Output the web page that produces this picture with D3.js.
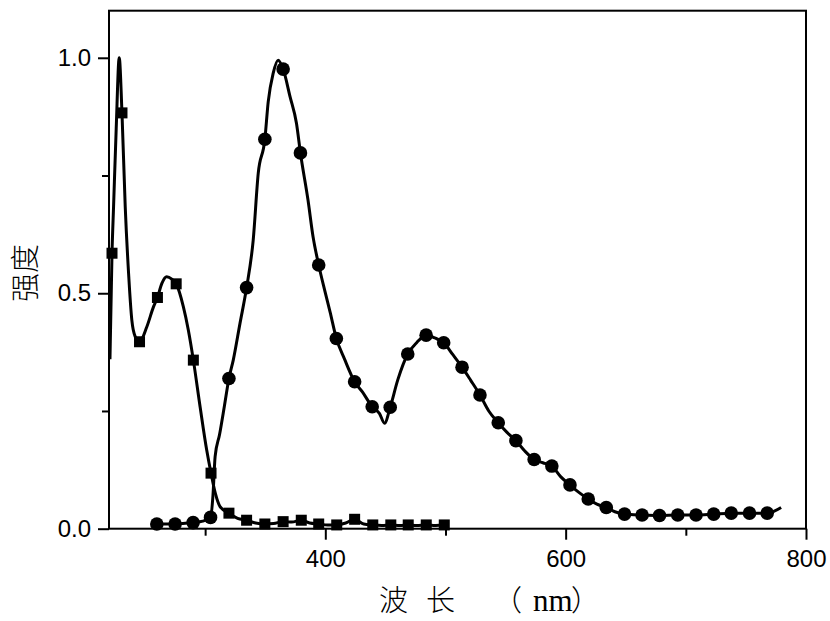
<!DOCTYPE html>
<html><head><meta charset="utf-8">
<script src="https://cdn.jsdelivr.net/npm/d3@7"></script>
<style>body{margin:0;background:#fff}svg{display:block}</style>
</head><body>
<svg id="c" width="830" height="621"></svg>
<script>
// ---- data ----
const xMajorTicks = [400, 600, 800];
const xMinorTicks = [300, 500, 700];
const xTickLabels = ["400", "600", "800"];
const yMajorTicks = [0, 0.5, 1.0];
const yMinorTicks = [0.25, 0.75];
const yTickLabels = ["0.0", "0.5", "1.0"];
const xTitleParts = ["波", "长", "（", "nm", "）"];
const yTitle = "强度";

// square series (line + markers)
const sqLineNm  = [220.8, 222.5, 223.8, 226, 228.5, 230.8, 233.5, 236.3, 239, 241.8, 245.4, 251.5, 257, 260.3, 264, 268, 272.3, 275.9, 281.9, 286, 290.2, 295.8, 301.3, 304.9, 308.5, 312.4, 319.8, 327, 334.5, 342, 349.7, 357, 364.9, 372, 380, 387, 394.5, 402, 409.5, 417, 424.4, 432, 439.5, 447, 454.5, 462, 469, 476, 484, 492, 499];
const sqLineVal = [0.36, 0.585, 0.684, 0.85, 1.0, 0.883, 0.684, 0.542, 0.443, 0.408, 0.397, 0.429, 0.471, 0.491, 0.521, 0.535, 0.53, 0.52, 0.471, 0.422, 0.358, 0.259, 0.167, 0.118, 0.075, 0.047, 0.033, 0.022, 0.018, 0.012, 0.01, 0.011, 0.015, 0.014, 0.018, 0.012, 0.01, 0.008, 0.008, 0.012, 0.02, 0.01, 0.008, 0.007, 0.008, 0.007, 0.008, 0.007, 0.008, 0.007, 0.008];
const sqMarkNm  = [222.5, 230.8, 245.4, 260.3, 275.9, 290.2, 304.9, 319.8, 334.5, 349.7, 364.9, 380, 394.5, 409.5, 424.4, 439.5, 454.5, 469, 484, 499];
const sqMarkVal = [0.585, 0.883, 0.397, 0.491, 0.52, 0.358, 0.118, 0.033, 0.018, 0.01, 0.015, 0.018, 0.01, 0.008, 0.02, 0.008, 0.008, 0.008, 0.008, 0.008];

// circle series (line + markers)
const ciLineNm  = [259.8, 275, 290, 298, 304.5, 306.5, 308.3, 312, 316, 319.8, 323.4, 329, 334.5, 340, 344.2, 349.7, 352.5, 356.6, 360.7, 364.9, 370.7, 376, 379.3, 385.6, 389.8, 394.5, 399.5, 404, 409.2, 416, 424.4, 431, 439, 445, 449.3, 454, 460.3, 468.6, 476, 483.9, 491, 498.5, 506, 513.8, 521, 528.7, 536, 543.9, 551, 558.6, 566, 573.8, 581, 588.5, 596, 603.6, 611, 618.8, 626, 633.8, 641, 649, 663.6, 678.1, 693.3, 708.5, 723.2, 737.8, 753, 767.7, 779.3];
const ciLineVal = [0.01, 0.01, 0.013, 0.016, 0.024, 0.07, 0.153, 0.2, 0.26, 0.319, 0.358, 0.436, 0.512, 0.613, 0.755, 0.827, 0.907, 0.967, 0.995, 0.976, 0.917, 0.861, 0.798, 0.698, 0.62, 0.56, 0.506, 0.46, 0.404, 0.36, 0.312, 0.29, 0.259, 0.245, 0.224, 0.258, 0.316, 0.371, 0.395, 0.411, 0.405, 0.395, 0.37, 0.343, 0.315, 0.284, 0.25, 0.225, 0.205, 0.187, 0.165, 0.147, 0.14, 0.133, 0.11, 0.093, 0.077, 0.063, 0.052, 0.045, 0.036, 0.031, 0.029, 0.028, 0.029, 0.029, 0.031, 0.033, 0.033, 0.033, 0.045];
const ciMarkNm  = [259.8, 275, 290, 304.5, 319.8, 334.5, 349.7, 364.9, 379.3, 394.5, 409.2, 424.4, 439, 454, 468.6, 483.9, 498.5, 513.8, 528.7, 543.9, 558.6, 573.8, 588.5, 603.6, 618.8, 633.8, 649, 663.6, 678.1, 693.3, 708.5, 723.2, 737.8, 753, 767.7];
const ciMarkVal = [0.01, 0.01, 0.013, 0.024, 0.319, 0.512, 0.827, 0.976, 0.798, 0.56, 0.404, 0.312, 0.259, 0.258, 0.371, 0.411, 0.395, 0.343, 0.284, 0.225, 0.187, 0.147, 0.133, 0.093, 0.063, 0.045, 0.031, 0.029, 0.028, 0.029, 0.029, 0.031, 0.033, 0.033, 0.033];

// ---- chart ----
const svg = d3.select("#c");
const x = d3.scaleLinear().domain([220, 800]).range([109, 806]);
const y = d3.scaleLinear().domain([0, 1.1]).range([528.7, 10.7]);
const numFont = "'Liberation Sans', Arial, sans-serif";

// frame
svg.append("rect")
  .attr("x", x(220)).attr("y", y(1.1))
  .attr("width", x(800) - x(220)).attr("height", y(0) - y(1.1))
  .attr("fill", "none").attr("stroke", "#000").attr("stroke-width", 2);

function styleAxis(g) {
  g.select(".domain").remove();
  g.selectAll(".tick line").attr("stroke", "#000").attr("stroke-width", 2);
  g.selectAll(".tick text").attr("fill", "#000").attr("font-family", numFont).attr("font-size", 24);
}

svg.append("g").attr("transform", `translate(0,${y(0)})`)
  .call(d3.axisBottom(x).tickValues(xMajorTicks).tickSize(11).tickPadding(10)
    .tickFormat((d, i) => xTickLabels[i]))
  .call(styleAxis);
svg.append("g").attr("transform", `translate(0,${y(0)})`)
  .call(d3.axisBottom(x).tickValues(xMinorTicks).tickSize(7).tickFormat(""))
  .call(styleAxis);
svg.append("g").attr("transform", `translate(${x(220)},0)`)
  .call(d3.axisLeft(y).tickValues(yMajorTicks).tickSize(11).tickPadding(7)
    .tickFormat((d, i) => yTickLabels[i]))
  .call(styleAxis);
svg.append("g").attr("transform", `translate(${x(220)},0)`)
  .call(d3.axisLeft(y).tickValues(yMinorTicks).tickSize(7).tickFormat(""))
  .call(styleAxis);

// lines
const line = d3.line().x(d => x(d[0])).y(d => y(d[1])).curve(d3.curveMonotoneX);
const sqLine = sqLineNm.map((n, i) => [n, sqLineVal[i]]);
const ciLine = ciLineNm.map((n, i) => [n, ciLineVal[i]]);
svg.append("path").datum(sqLine).attr("d", line)
  .attr("fill", "none").attr("stroke", "#000").attr("stroke-width", 3).attr("stroke-linejoin", "round");
svg.append("path").datum(ciLine).attr("d", line)
  .attr("fill", "none").attr("stroke", "#000").attr("stroke-width", 3).attr("stroke-linejoin", "round");

// markers
const sq = 11;
svg.append("g").selectAll("rect").data(sqMarkNm.map((n, i) => [n, sqMarkVal[i]])).join("rect")
  .attr("x", d => x(d[0]) - sq / 2).attr("y", d => y(d[1]) - sq / 2)
  .attr("width", sq).attr("height", sq).attr("fill", "#000");
svg.append("g").selectAll("circle").data(ciMarkNm.map((n, i) => [n, ciMarkVal[i]])).join("circle")
  .attr("cx", d => x(d[0])).attr("cy", d => y(d[1])).attr("r", 6.8).attr("fill", "#000");

// axis titles
const cjk = "'Noto Sans CJK SC', sans-serif";
const xt = svg.append("text").attr("y", 611).attr("fill", "#000");
xt.append("tspan").attr("x", 379).attr("font-family", cjk).attr("font-size", 29).attr("font-weight", 300).text(xTitleParts[0]);
xt.append("tspan").attr("x", 426).attr("font-family", cjk).attr("font-size", 29).attr("font-weight", 300).text(xTitleParts[1]);
xt.append("tspan").attr("x", 493).attr("font-family", cjk).attr("font-size", 29).attr("font-weight", 300).text(xTitleParts[2]);
xt.append("tspan").attr("x", 533).attr("font-family", "'Liberation Serif', serif").attr("font-size", 31).text(xTitleParts[3]);
xt.append("tspan").attr("x", 571).attr("font-family", cjk).attr("font-size", 29).attr("font-weight", 300).text(xTitleParts[4]);

svg.append("text")
  .attr("transform", "translate(36,273) rotate(-90)")
  .attr("text-anchor", "middle")
  .attr("font-family", cjk).attr("font-size", 29).attr("font-weight", 300)
  .attr("fill", "#000").text(yTitle);
</script>
</body></html>
